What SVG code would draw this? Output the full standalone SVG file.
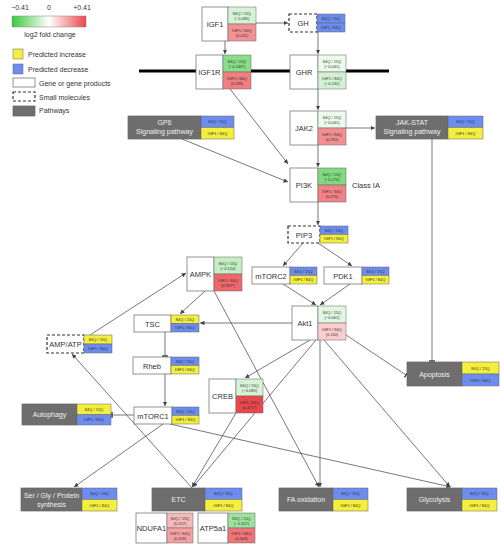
<svg xmlns="http://www.w3.org/2000/svg" width="501" height="550" viewBox="0 0 501 550">
<style>
text{font-family:"Liberation Sans",Arial,sans-serif;fill:#333}
.lg{font-size:7px}
.lbl{font-size:7.5px;text-anchor:middle}
.lft{font-size:7.5px;text-anchor:start}
.ct{font-size:4px;text-anchor:middle}
.pt{font-size:7px;text-anchor:middle;fill:#eee}
.w{fill:#fff;stroke:#666;stroke-width:0.7}
.d{fill:#fff;stroke:#333;stroke-width:1.2;stroke-dasharray:3,2}
.g{fill:#6e6e6e;stroke:#666;stroke-width:0.7}
.c{stroke:#666;stroke-width:0.5}
.b{fill:#6d8cf0;stroke:#666;stroke-width:0.5}
.y{fill:#f4ee3c;stroke:#666;stroke-width:0.5}
.ln{stroke:#555;stroke-width:0.8;fill:none}
.ar{marker-end:url(#ah)}
.tb{marker-end:url(#tb)}
</style>
<defs>
<linearGradient id="grad" x1="0" x2="1" y1="0" y2="0">
<stop offset="0" stop-color="#3cc83c"/>
<stop offset="0.5" stop-color="#ffffff"/>
<stop offset="1" stop-color="#eb464b"/>
</linearGradient>
<marker id="ah" viewBox="0 0 6 6" refX="6" refY="3" markerWidth="4.5" markerHeight="4.5" markerUnits="userSpaceOnUse" orient="auto"><path d="M0,0 L6,3 L0,6 z" fill="#444"/></marker>
<marker id="tb" viewBox="0 0 2 8" refX="1" refY="4" markerWidth="1.5" markerHeight="6" markerUnits="userSpaceOnUse" orient="auto"><path d="M1,0 L1,8" stroke="#444" stroke-width="2"/></marker>
</defs>
<rect width="501" height="550" fill="#fff"/>

<g id="legend">
<text class="lg" x="20" y="10" text-anchor="middle">−0.41</text>
<text class="lg" x="49" y="10" text-anchor="middle">0</text>
<text class="lg" x="82" y="10" text-anchor="middle">+0.41</text>
<rect x="12" y="16" width="74" height="11" fill="url(#grad)" stroke="#888" stroke-width="0.5"/>
<text class="lg" x="50" y="37" text-anchor="middle">log2 fold change</text>
<rect x="13" y="49" width="10" height="10" class="y"/>
<text class="lg" x="28" y="57">Predicted increase</text>
<rect x="13" y="64" width="10" height="10" class="b"/>
<text class="lg" x="28" y="72">Predicted decrease</text>
<rect x="13" y="78" width="22" height="9" class="w"/>
<text class="lg" x="39" y="86">Gene or gene products</text>
<rect x="13" y="92" width="22" height="9" class="d"/>
<text class="lg" x="39" y="100">Small molecules</text>
<rect x="13" y="106" width="22" height="10" class="g"/>
<text class="lg" x="39" y="113">Pathways</text>
</g>

<g id="connectors">
<line x1="139" y1="71" x2="389" y2="71" stroke="#000" stroke-width="3"/>
<line class="ln ar" x1="256" y1="23" x2="288" y2="23"/>
<line class="ln ar" x1="225" y1="41" x2="225" y2="54"/>
<line class="ln ar" x1="318" y1="32" x2="318" y2="54"/>
<line class="ln ar" x1="318" y1="89" x2="318" y2="110"/>
<line class="ln ar" x1="346" y1="128" x2="375" y2="128"/>
<line class="ln ar" x1="318" y1="145" x2="318" y2="167"/>
<line class="ln ar" x1="230" y1="89" x2="288" y2="164"/>
<line class="ln ar" x1="182" y1="139" x2="288" y2="182"/>
<line class="ln ar" x1="318" y1="202" x2="318" y2="225"/>
<line class="ln ar" x1="303" y1="243" x2="283" y2="266"/>
<line class="ln ar" x1="318" y1="243" x2="352" y2="266"/>
<line class="ln ar" x1="283" y1="284" x2="316" y2="305"/>
<line class="ln ar" x1="350" y1="284" x2="320" y2="305"/>
<line class="ln ar" x1="292" y1="323" x2="200" y2="323"/>
<line class="ln ar" x1="90" y1="335" x2="186" y2="273"/>
<line class="ln ar" x1="205" y1="291" x2="180" y2="314"/>
<line class="ln ar" x1="214" y1="291" x2="319" y2="487"/>
<line class="ln tb" x1="165" y1="332" x2="165" y2="356"/>
<line class="ln ar" x1="165" y1="374" x2="165" y2="406"/>
<line class="ln tb" x1="134" y1="415" x2="112" y2="415"/>
<line class="ln ar" x1="163" y1="424" x2="74" y2="487"/>
<line class="ln ar" x1="170" y1="424" x2="451" y2="487"/>
<line class="ln ar" x1="192" y1="488" x2="72" y2="354"/>
<line class="ln ar" x1="310" y1="340" x2="245" y2="378"/>
<line class="ln ar" x1="316" y1="340" x2="193" y2="487"/>
<line class="ln ar" x1="236" y1="413" x2="192" y2="487"/>
<line class="ln ar" x1="320" y1="340" x2="320" y2="487"/>
<line class="ln ar" x1="324" y1="340" x2="450" y2="487"/>
<line class="ln tb" x1="346" y1="335" x2="406" y2="375"/>
<line class="ln tb" x1="432" y1="139" x2="432" y2="361"/>
</g>

<g id="IGF1">
<rect class="w" x="202" y="7" width="26" height="34"/>
<rect class="c" x="228" y="7" width="28" height="17" fill="#d7f3d7"/>
<rect class="c" x="228" y="24" width="28" height="17" fill="#f39295"/>
<text class="lbl" x="215" y="27">IGF1</text>
<text class="ct" x="242" y="14.5">84Q / 15Q</text><text class="ct" x="242" y="20">(−0.085)</text>
<text class="ct" x="242" y="31.5">IGF1 / 84Q</text><text class="ct" x="242" y="37">(0.241)</text>
</g>

<g id="GH">
<rect class="d" x="289" y="14" width="28" height="18"/>
<rect class="b" x="317" y="14" width="28" height="9"/>
<rect class="b" x="317" y="23" width="28" height="9"/>
<text class="lbl" x="303" y="26">GH</text>
<text class="ct" x="331" y="20">84Q / 15Q</text>
<text class="ct" x="331" y="29">IGF1 / 84Q</text>
</g>

<g id="IGF1R">
<rect class="w" x="196" y="55" width="27" height="34"/>
<rect class="c" x="223" y="55" width="28" height="17" fill="#89de89"/>
<rect class="c" x="223" y="72" width="28" height="17" fill="#f17e81"/>
<text class="lbl" x="209.5" y="75">IGF1R</text>
<text class="ct" x="237" y="62.5">84Q / 15Q</text><text class="ct" x="237" y="68">(−0.248*)</text>
<text class="ct" x="237" y="79.5">IGF1 / 84Q</text><text class="ct" x="237" y="85">(0.286)</text>
</g>

<g id="GHR">
<rect class="w" x="290" y="55" width="28" height="34"/>
<rect class="c" x="318" y="55" width="28" height="17" fill="#ebfaeb"/>
<rect class="c" x="318" y="72" width="28" height="17" fill="#d3f1d3"/>
<text class="lbl" x="304" y="75">GHR</text>
<text class="ct" x="332" y="62.5">84Q / 15Q</text><text class="ct" x="332" y="68">(−0.041)</text>
<text class="ct" x="332" y="79.5">IGF1 / 84Q</text><text class="ct" x="332" y="85">(−0.242)</text>
</g>

<g id="JAK2">
<rect class="w" x="290" y="111" width="28" height="34"/>
<rect class="c" x="318" y="111" width="28" height="17" fill="#ebfaeb"/>
<rect class="c" x="318" y="128" width="28" height="17" fill="#f38e91"/>
<text class="lbl" x="304" y="131">JAK2</text>
<text class="ct" x="332" y="118.5">84Q / 15Q</text><text class="ct" x="332" y="124">(−0.041)</text>
<text class="ct" x="332" y="135.5">IGF1 / 84Q</text><text class="ct" x="332" y="141">(0.250)</text>
</g>

<g id="GP6">
<rect class="g" x="128" y="116" width="73" height="23"/>
<rect class="b" x="201" y="116" width="33" height="11.5"/>
<rect class="y" x="201" y="127.5" width="33" height="11.5"/>
<text class="pt" x="164.5" y="125">GP6</text>
<text class="pt" x="164.5" y="134">Signaling pathway</text>
<text class="ct" x="217.5" y="123.3">84Q / 15Q</text>
<text class="ct" x="217.5" y="134.8">IGF1 / 84Q</text>
</g>

<g id="JAK-STAT">
<rect class="g" x="376" y="116" width="72" height="23"/>
<rect class="b" x="448" y="116" width="35" height="11.5"/>
<rect class="y" x="448" y="127.5" width="35" height="11.5"/>
<text class="pt" x="412" y="125">JAK-STAT</text>
<text class="pt" x="412" y="134">Signaling pathway</text>
<text class="ct" x="465.5" y="123.3">84Q / 15Q</text>
<text class="ct" x="465.5" y="134.8">IGF1 / 84Q</text>
</g>

<g id="PI3K">
<rect class="w" x="290" y="168" width="28" height="34"/>
<rect class="c" x="318" y="168" width="28" height="17" fill="#80db80"/>
<rect class="c" x="318" y="185" width="28" height="17" fill="#f28286"/>
<text class="lbl" x="304" y="188">PI3K</text>
<text class="ct" x="332" y="175.5">84Q / 15Q</text><text class="ct" x="332" y="181">(−0.270)</text>
<text class="ct" x="332" y="192.5">IGF1 / 84Q</text><text class="ct" x="332" y="198">(0.276)</text>
<text class="lft" x="352" y="188">Class IA</text>
</g>

<g id="PIP3">
<rect class="d" x="288" y="226" width="32" height="17"/>
<rect class="b" x="320" y="226" width="28" height="8.5"/>
<rect class="y" x="320" y="234.5" width="28" height="8.5"/>
<text class="lbl" x="304" y="237.5">PIP3</text>
<text class="ct" x="334" y="231.8">84Q / 15Q</text>
<text class="ct" x="334" y="240.3">IGF1 / 84Q</text>
</g>

<g id="AMPK">
<rect class="w" x="187" y="257" width="27" height="34"/>
<rect class="c" x="214" y="257" width="28" height="17" fill="#c4eec4"/>
<rect class="c" x="214" y="274" width="28" height="17" fill="#ef676b"/>
<text class="lbl" x="200.5" y="277">AMPK</text>
<text class="ct" x="228" y="264.5">84Q / 15Q</text><text class="ct" x="228" y="270">(−0.124)</text>
<text class="ct" x="228" y="281.5">IGF1 / 84Q</text><text class="ct" x="228" y="287">(0.337*)</text>
</g>

<g id="mTORC2">
<rect class="w" x="252" y="267" width="38" height="17"/>
<rect class="b" x="290" y="267" width="27" height="8.5"/>
<rect class="y" x="290" y="275.5" width="27" height="8.5"/>
<text class="lbl" x="271" y="278.5">mTORC2</text>
<text class="ct" x="303.5" y="272.8">84Q / 15Q</text>
<text class="ct" x="303.5" y="281.3">IGF1 / 84Q</text>
</g>

<g id="PDK1">
<rect class="w" x="324" y="267" width="38" height="17"/>
<rect class="b" x="362" y="267" width="27" height="8.5"/>
<rect class="y" x="362" y="275.5" width="27" height="8.5"/>
<text class="lbl" x="343" y="278.5">PDK1</text>
<text class="ct" x="375.5" y="272.8">84Q / 15Q</text>
<text class="ct" x="375.5" y="281.3">IGF1 / 84Q</text>
</g>

<g id="Akt1">
<rect class="w" x="292" y="306" width="26" height="34"/>
<rect class="c" x="318" y="306" width="28" height="17" fill="#e2f7e2"/>
<rect class="c" x="318" y="323" width="28" height="17" fill="#facdce"/>
<text class="lbl" x="305" y="326">Akt1</text>
<text class="ct" x="332" y="313.5">84Q / 15Q</text><text class="ct" x="332" y="319">(−0.061)</text>
<text class="ct" x="332" y="330.5">IGF1 / 84Q</text><text class="ct" x="332" y="336">(0.110)</text>
</g>

<g id="TSC">
<rect class="w" x="134" y="315" width="37" height="17"/>
<rect class="y" x="171" y="315" width="28" height="8.5"/>
<rect class="b" x="171" y="323.5" width="28" height="8.5"/>
<text class="lbl" x="152.5" y="326.5">TSC</text>
<text class="ct" x="185" y="320.8">84Q / 15Q</text>
<text class="ct" x="185" y="329.3">IGF1 / 84Q</text>
</g>

<g id="AMP-ATP">
<rect class="d" x="47" y="335" width="37" height="18"/>
<rect class="y" x="84" y="335" width="28" height="9"/>
<rect class="b" x="84" y="344" width="28" height="9"/>
<text class="lbl" x="65.5" y="347">AMP/ATP</text>
<text class="ct" x="98" y="341">84Q / 15Q</text>
<text class="ct" x="98" y="350">IGF1 / 84Q</text>
</g>

<g id="Rheb">
<rect class="w" x="133" y="357" width="38" height="17"/>
<rect class="b" x="171" y="357" width="28" height="8.5"/>
<rect class="y" x="171" y="365.5" width="28" height="8.5"/>
<text class="lbl" x="152" y="368.5">Rheb</text>
<text class="ct" x="185" y="362.8">84Q / 15Q</text>
<text class="ct" x="185" y="371.3">IGF1 / 84Q</text>
</g>

<g id="CREB">
<rect class="w" x="209" y="379" width="27" height="34"/>
<rect class="c" x="236" y="379" width="27" height="17" fill="#d7f3d7"/>
<rect class="c" x="236" y="396" width="27" height="17" fill="#eb464b"/>
<text class="lbl" x="222.5" y="399">CREB</text>
<text class="ct" x="249.5" y="386.5">84Q / 15Q</text><text class="ct" x="249.5" y="392">(−0.085)</text>
<text class="ct" x="249.5" y="403.5">IGF1 / 84Q</text><text class="ct" x="249.5" y="409">(0.471*)</text>
</g>

<g id="Autophagy">
<rect class="g" x="22" y="404" width="55" height="21"/>
<rect class="y" x="77" y="404" width="34" height="10.5"/>
<rect class="b" x="77" y="414.5" width="34" height="10.5"/>
<text class="pt" x="49.5" y="417">Autophagy</text>
<text class="ct" x="94" y="410.8">84Q / 15Q</text>
<text class="ct" x="94" y="421.3">IGF1 / 84Q</text>
</g>

<g id="mTORC1">
<rect class="w" x="134" y="407" width="38" height="17"/>
<rect class="b" x="172" y="407" width="27" height="8.5"/>
<rect class="y" x="172" y="415.5" width="27" height="8.5"/>
<text class="lbl" x="153" y="418.5">mTORC1</text>
<text class="ct" x="185.5" y="412.8">84Q / 15Q</text>
<text class="ct" x="185.5" y="421.3">IGF1 / 84Q</text>
</g>

<g id="Apoptosis">
<rect class="g" x="407" y="362" width="55" height="24"/>
<rect class="y" x="462" y="362" width="37" height="12"/>
<rect class="b" x="462" y="374" width="37" height="12"/>
<text class="pt" x="434.5" y="376.5">Apoptosis</text>
<text class="ct" x="480.5" y="369.5">84Q / 15Q</text>
<text class="ct" x="480.5" y="381.5">IGF1 / 84Q</text>
</g>

<g id="SerGly">
<rect class="g" x="21" y="488" width="61" height="23"/>
<rect class="b" x="82" y="488" width="35" height="11.5"/>
<rect class="y" x="82" y="499.5" width="35" height="11.5"/>
<text class="pt" x="51.5" y="497.5">Ser / Gly / Protein</text>
<text class="pt" x="51.5" y="506.5">synthesis</text>
<text class="ct" x="99.5" y="495.3">84Q / 15Q</text>
<text class="ct" x="99.5" y="506.8">IGF1 / 84Q</text>
</g>

<g id="ETC">
<rect class="g" x="152" y="488" width="53" height="23"/>
<rect class="b" x="205" y="488" width="37" height="11.5"/>
<rect class="y" x="205" y="499.5" width="37" height="11.5"/>
<text class="pt" x="178.5" y="502">ETC</text>
<text class="ct" x="223.5" y="495.3">84Q / 15Q</text>
<text class="ct" x="223.5" y="506.8">IGF1 / 84Q</text>
</g>

<g id="NDUFA1">
<rect class="w" x="136" y="513" width="31" height="30"/>
<rect class="c" x="167" y="513" width="26" height="15" fill="#f7b8ba"/>
<rect class="c" x="167" y="528" width="26" height="15" fill="#f5a1a3"/>
<text class="lbl" x="151.5" y="531" font-size="7">NDUFA1</text>
<text class="ct" x="180" y="519.5">84Q / 15Q</text><text class="ct" x="180" y="525">(0.157)</text>
<text class="ct" x="180" y="534.5">IGF1 / 84Q</text><text class="ct" x="180" y="540">(0.209)</text>
</g>

<g id="ATP5a1">
<rect class="w" x="198" y="513" width="30" height="30"/>
<rect class="c" x="228" y="513" width="27" height="15" fill="#9de39d"/>
<rect class="c" x="228" y="528" width="27" height="15" fill="#f07478"/>
<text class="lbl" x="213" y="531" font-size="7">ATP5a1</text>
<text class="ct" x="241.5" y="519.5">84Q / 15Q</text><text class="ct" x="241.5" y="525">(−0.207)</text>
<text class="ct" x="241.5" y="534.5">IGF1 / 84Q</text><text class="ct" x="241.5" y="540">(0.308)</text>
</g>

<g id="FAoxidation">
<rect class="g" x="279" y="488" width="54" height="23"/>
<rect class="b" x="333" y="488" width="35" height="11.5"/>
<rect class="y" x="333" y="499.5" width="35" height="11.5"/>
<text class="pt" x="306" y="502">FA oxidation</text>
<text class="ct" x="350.5" y="495.3">84Q / 15Q</text>
<text class="ct" x="350.5" y="506.8">IGF1 / 84Q</text>
</g>

<g id="Glycolysis">
<rect class="g" x="407" y="488" width="55" height="23"/>
<rect class="b" x="462" y="488" width="35" height="11.5"/>
<rect class="y" x="462" y="499.5" width="35" height="11.5"/>
<text class="pt" x="434.5" y="502">Glycolysis</text>
<text class="ct" x="479.5" y="495.3">84Q / 15Q</text>
<text class="ct" x="479.5" y="506.8">IGF1 / 84Q</text>
</g>
</svg>
